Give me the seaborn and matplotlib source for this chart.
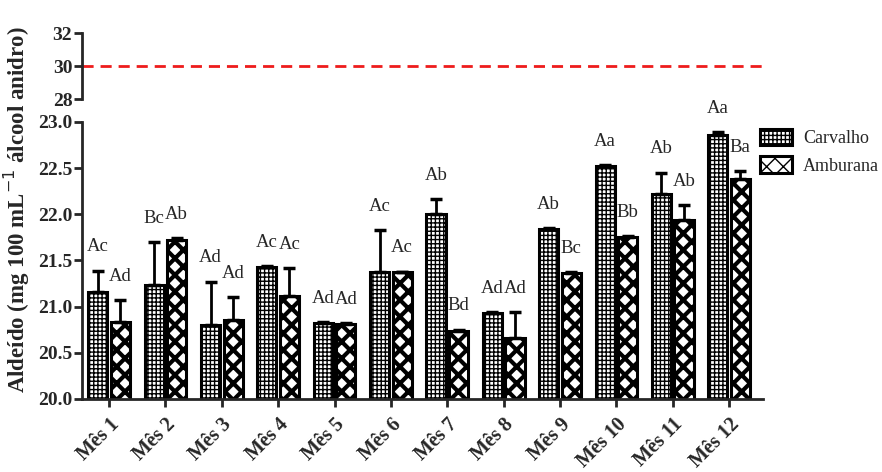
import numpy as np
import pandas as pd
import matplotlib.pyplot as plt
import seaborn as sns

meses = ["Mês 1", "Mês 2", "Mês 3", "Mês 4", "Mês 5", "Mês 6",
         "Mês 7", "Mês 8", "Mês 9", "Mês 10", "Mês 11", "Mês 12"]
carvalho = [21.16, 21.23, 20.80, 21.43, 20.82, 21.38, 22.00, 20.93, 21.84, 22.52, 22.22, 22.86]
carvalho_dp = [0.23, 0.47, 0.47, 0.01, 0.01, 0.45, 0.16, 0.01, 0.01, 0.01, 0.23, 0.03]
amburana = [20.83, 21.72, 20.85, 21.12, 20.81, 21.37, 20.74, 20.66, 21.36, 21.75, 21.94, 22.38]
amburana_dp = [0.24, 0.02, 0.25, 0.30, 0.01, 0.01, 0.01, 0.28, 0.01, 0.01, 0.16, 0.09]
letras_carv = ["Ac", "Bc", "Ad", "Ac", "Ad", "Ac", "Ab", "Ad", "Ab", "Aa", "Ab", "Aa"]
letras_amb = ["Ad", "Ab", "Ad", "Ac", "Ad", "Ac", "Bd", "Ad", "Bc", "Bb", "Ab", "Ba"]
limite = 30

df = pd.DataFrame({
    "mes": meses * 2,
    "valor": carvalho + amburana,
    "madeira": ["Carvalho"] * 12 + ["Amburana"] * 12,
})

sns.set_style("ticks")
plt.rcParams["font.family"] = ["Liberation Serif", "DejaVu Serif"]
plt.rcParams["axes.linewidth"] = 2

fig = plt.figure(figsize=(8.82, 4.72), dpi=100)
ax_top = fig.add_axes([0.093, 0.790, 0.772, 0.140])
ax = fig.add_axes([0.093, 0.1547, 0.772, 0.587])

sns.barplot(data=df, x="mes", y="valor", hue="madeira", ax=ax, errorbar=None,
            width=0.8, gap=0.15, palette=["white", "white"],
            edgecolor="black", linewidth=2.2, legend=False)

# (hatch, hatch linewidth) for Carvalho and Amburana
estilos = [("++++", 1.0), ("xx", 3.0)]
series = [(carvalho, carvalho_dp, letras_carv), (amburana, amburana_dp, letras_amb)]
for cont, (h, hlw), (vals, dp, letras) in zip(ax.containers, estilos, series):
    xs = []
    for p in cont:
        p.set_hatch(h)
        if hasattr(p, "set_hatch_linewidth"):
            p.set_hatch_linewidth(hlw)
        else:
            p._hatch_linewidth = hlw
        xs.append(p.get_x() + p.get_width() / 2)
    ax.errorbar(xs, vals, yerr=[np.zeros(len(dp)), dp], fmt="none", ecolor="black",
                elinewidth=2, capsize=4, capthick=2.5, zorder=5)
    for x, v, d, t in zip(xs, vals, dp, letras):
        ax.annotate(t, xy=(x, v + d), xytext=(0, 11), textcoords="offset points",
                    ha="center", va="bottom", fontsize=13.5)

ax.set_ylim(20, 23)
ax.set_xlim(-0.48, 11.6)
ax.set_yticks([20.0, 20.5, 21.0, 21.5, 22.0, 22.5, 23.0])
ax.set_yticklabels([f"{v:.1f}" for v in ax.get_yticks()], fontweight="bold", fontsize=14)
ax.set_xticks(range(12))
ax.set_xticklabels(meses, rotation=45, ha="right", rotation_mode="anchor",
                   fontweight="bold", fontsize=14.5)
ax.set_xlabel("")
ax.set_ylabel("")
ax.tick_params(width=2, length=6, direction="out")
ax.tick_params(axis="y", pad=1)
ax.tick_params(axis="x", pad=5)
sns.despine(ax=ax)

ax.legend(handles=[ax.containers[0][0], ax.containers[1][0]],
          labels=["Carvalho", "Amburana"], loc="upper left",
          bbox_to_anchor=(0.985, 1.0), frameon=False, fontsize=13,
          handlelength=1.8, handleheight=1.0, handletextpad=0.6,
          labelspacing=0.5, borderaxespad=0.0)

ax_top.axhline(limite, color="#ee1c1c", ls=(0, (4, 2.5)), lw=2)
ax_top.set_ylim(28, 32)
ax_top.set_xlim(-0.48, 11.6)
ax_top.set_yticks([28, 30, 32])
ax_top.set_yticklabels(["28", "30", "32"], fontweight="bold", fontsize=14)
ax_top.tick_params(width=2, length=6, direction="out", pad=1)
ax_top.set_xticks([])
sns.despine(ax=ax_top, bottom=True)

fig.text(0.019, 0.555, "Aldeído (mg 100 mL$^{-1}$ álcool anidro)", rotation=90,
         ha="center", va="center", fontweight="bold", fontsize=16.5)

fig.savefig("out.png", dpi=100)
